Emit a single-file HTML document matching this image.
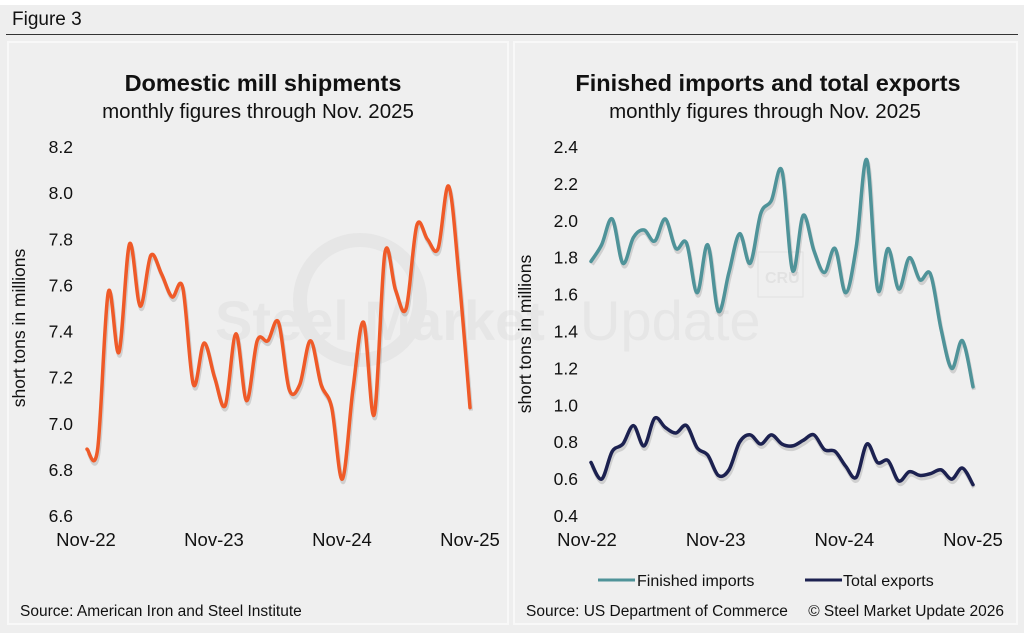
<!DOCTYPE html>
<html><head><meta charset="utf-8">
<style>
body{margin:0;background:#fff;font-family:"Liberation Sans",sans-serif;}
#wrap{position:absolute;left:0;top:5px;width:1024px;height:628px;background:#eeeeee;}
svg{position:absolute;left:0;top:0}
</style></head>
<body>
<div id="wrap"></div>
<svg id="chart" width="1024" height="633">
<text x="12" y="25" font-size="19" fill="#111">Figure 3</text>
<line x1="6" y1="34.5" x2="1018" y2="34.5" stroke="#333" stroke-width="1"/>
<rect x="8" y="42" width="500" height="582" fill="#efefef" stroke="#f8f8f8" stroke-width="2"/>
<rect x="514" y="42" width="503" height="582" fill="#efefef" stroke="#f8f8f8" stroke-width="2"/>
<g opacity="0.35">
<circle cx="360" cy="300" r="60" fill="none" stroke="#d6d6d6" stroke-width="14"/>
<text x="215" y="340" font-size="56" font-weight="bold" fill="#d8d8d8">Steel Market</text>
<text x="580" y="340" font-size="56" fill="#d8d8d8">Update</text>
<rect x="758" y="252" width="45" height="45" fill="none" stroke="#ccc"/>
<text x="765" y="283" font-size="16" font-weight="bold" fill="#ccc">CRU</text>
</g>
<text x="263" y="91" font-size="23.5" font-weight="bold" text-anchor="middle" fill="#111">Domestic mill shipments</text>
<text x="258" y="118" font-size="20.5" text-anchor="middle" fill="#111">monthly figures through Nov. 2025</text>
<text x="768" y="91" font-size="23.5" font-weight="bold" text-anchor="middle" fill="#111">Finished imports and total exports</text>
<text x="765" y="118" font-size="20.5" text-anchor="middle" fill="#111">monthly figures through Nov. 2025</text>
<text transform="translate(25,328) rotate(-90)" font-size="17.5" text-anchor="middle" fill="#111">short tons in millions</text>
<text transform="translate(531,334) rotate(-90)" font-size="17.5" text-anchor="middle" fill="#111">short tons in millions</text>
<g id="leftAxis"></g><g id="rightAxis"></g><g id="series"></g>
<g>
<line x1="598" y1="580" x2="635" y2="580" stroke="#4f9399" stroke-width="3"/>
<text x="637" y="586" font-size="16" fill="#111">Finished imports</text>
<line x1="805" y1="580" x2="842" y2="580" stroke="#1c2150" stroke-width="3"/>
<text x="843" y="586" font-size="16" fill="#111">Total exports</text>
</g>
<text x="20" y="616" font-size="15.5" fill="#111">Source: American Iron and Steel Institute</text>
<text x="526" y="616" font-size="15.5" fill="#111">Source: US Department of Commerce</text>
<text x="1004" y="616" font-size="15.5" text-anchor="end" fill="#111">© Steel Market Update 2026</text>
</svg>
<script>
const xLabels=["Nov-22","Nov-23","Nov-24","Nov-25"];
const leftTicks=[6.6,6.8,7.0,7.2,7.4,7.6,7.8,8.0,8.2];
const rightTicks=[0.4,0.6,0.8,1.0,1.2,1.4,1.6,1.8,2.0,2.2,2.4];
const shipments=[6.89,6.89,7.57,7.31,7.78,7.51,7.73,7.65,7.55,7.59,7.17,7.35,7.20,7.08,7.39,7.10,7.36,7.36,7.44,7.15,7.17,7.36,7.17,7.07,6.76,7.15,7.44,7.04,7.74,7.58,7.50,7.86,7.80,7.76,8.03,7.62,7.07];
const imports=[1.78,1.87,2.01,1.77,1.91,1.95,1.89,2.01,1.85,1.88,1.61,1.87,1.51,1.72,1.93,1.77,2.04,2.11,2.27,1.73,2.03,1.84,1.72,1.85,1.61,1.86,2.33,1.63,1.85,1.63,1.80,1.68,1.71,1.41,1.20,1.35,1.10];
const exportsT=[0.69,0.60,0.75,0.79,0.89,0.78,0.93,0.88,0.85,0.89,0.77,0.73,0.62,0.65,0.80,0.84,0.79,0.84,0.79,0.78,0.81,0.84,0.76,0.75,0.67,0.61,0.79,0.69,0.70,0.59,0.64,0.62,0.63,0.65,0.60,0.66,0.57];
const NS="http://www.w3.org/2000/svg";
function mk(tag,attrs,parent){const e=document.createElementNS(NS,tag);for(const k in attrs)e.setAttribute(k,attrs[k]);parent.appendChild(e);return e;}
const L={x0:87,x1:470,y0:516,y1:147,min:6.6,max:8.2};
const R={x0:591,x1:973,y0:516,y1:147,min:0.4,max:2.4};
function xs(a,i,n){return a.x0+(a.x1-a.x0)*i/(n-1);}
function ys(a,v){return a.y0-(v-a.min)/(a.max-a.min)*(a.y0-a.y1);}
function smooth(pts){let d="M"+pts[0][0]+","+pts[0][1];for(let i=0;i<pts.length-1;i++){const p0=pts[Math.max(0,i-1)],p1=pts[i],p2=pts[i+1],p3=pts[Math.min(pts.length-1,i+2)];const c1x=p1[0]+(p2[0]-p0[0])/6,c1y=p1[1]+(p2[1]-p0[1])/6,c2x=p2[0]-(p3[0]-p1[0])/6,c2y=p2[1]-(p3[1]-p1[1])/6;d+=" C"+c1x+","+c1y+" "+c2x+","+c2y+" "+p2[0]+","+p2[1];}return d;}
function axis(a,ticks,g,cx,xl0,xl1){
 ticks.forEach(t=>{const e=mk("text",{x:cx,y:ys(a,t)+6,"font-size":17.5,"text-anchor":"end",fill:"#111"},g);e.textContent=t.toFixed(1);
 
 });
 xLabels.forEach((l,i)=>{const x=xl0+(xl1-xl0)*i/3;const e=mk("text",{x:x,y:546,"font-size":18.5,"text-anchor":"middle",fill:"#111"},g);e.textContent=l;
 
 });
}
axis(L,leftTicks,document.getElementById("leftAxis"),73,86,470);
axis(R,rightTicks,document.getElementById("rightAxis"),578,587,973);
const sg=document.getElementById("series");
function line(a,vals,color,name){
 const pts=vals.map((v,i)=>[xs(a,i,vals.length),ys(a,v)]);
 const sh=mk("path",{d:smooth(pts),fill:"none",stroke:"rgba(0,0,0,0.13)","stroke-width":4,transform:"translate(1,3)"},sg);
 
 
 const p=mk("path",{d:smooth(pts),fill:"none",stroke:color,"stroke-width":3.5,"stroke-linecap":"round"},sg);
 
 
}
line(L,shipments,"#ef5a28","shipments-line");
line(R,imports,"#4f9399","finished-imports-line");
line(R,exportsT,"#1c2150","total-exports-line");
</script>
</body></html>
